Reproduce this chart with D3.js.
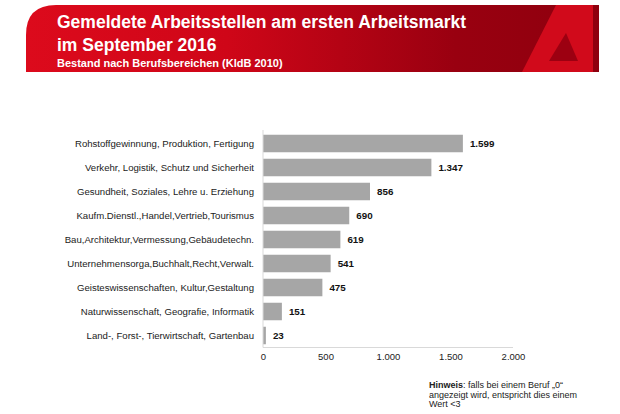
<!DOCTYPE html>
<html>
<head>
<meta charset="utf-8">
<script src="https://cdn.jsdelivr.net/npm/d3@7"></script>
<style>
  body { margin: 0; background: #fff; }
  svg { display: block; font-family: "Liberation Sans", Arial, sans-serif; }
</style>
</head>
<body>
<svg width="620" height="414"></svg>
<script>
const width = 620;
const height = 414;

// data
var categories = [
    "Rohstoffgewinnung, Produktion, Fertigung",
    "Verkehr, Logistik, Schutz und Sicherheit",
    "Gesundheit, Soziales, Lehre u. Erziehung",
    "Kaufm.Dienstl.,Handel,Vertrieb,Tourismus",
    "Bau,Architektur,Vermessung,Gebäudetechn.",
    "Unternehmensorga,Buchhalt,Recht,Verwalt.",
    "Geisteswissenschaften, Kultur,Gestaltung",
    "Naturwissenschaft, Geografie, Informatik",
    "Land-, Forst-, Tierwirtschaft, Gartenbau"
];
var values = [1599, 1347, 856, 690, 619, 541, 475, 151, 23];
var ticks = [0, 500, 1000, 1500, 2000];

var titleLines = ["Gemeldete Arbeitsstellen am ersten Arbeitsmarkt", "im September 2016"];
var subtitle = "Bestand nach Berufsbereichen (KldB 2010)";

var de = d3.formatLocale({decimal: ",", thousands: ".", grouping: [3], currency: ["", " €"]});
var fmt = de.format(",d");

var svg = d3.select("svg");

// ---- header band ----
var defs = svg.append("defs");
var grad = defs.append("linearGradient").attr("id", "hdr").attr("x1", 0).attr("x2", 1).attr("y1", 0).attr("y2", 0);
grad.append("stop").attr("offset", "0%").attr("stop-color", "#dc0a1c");
grad.append("stop").attr("offset", "35%").attr("stop-color", "#cf0618");
grad.append("stop").attr("offset", "75%").attr("stop-color", "#990010");
grad.append("stop").attr("offset", "100%").attr("stop-color", "#8e000e");

var bx0 = 26, bx1 = 599, by0 = 5, by1 = 72, r = 30;
svg.append("path")
    .attr("d", "M" + bx0 + "," + by1 + "V" + (by0 + r) + "Q" + bx0 + "," + by0 + " " + (bx0 + r) + "," + by0 + "H" + bx1 + "V" + by1 + "Z")
    .attr("fill", "url(#hdr)");

// logo (stylised A, cut by the band edge)
var logo = svg.append("g");
logo.append("path")
    .attr("d", "M522,72 L556,5 L593,5 L593,72 Z")
    .attr("fill", "#d10a1b");
logo.append("path")
    .attr("d", "M566,33 L549,61 L578,61 Z")
    .attr("fill", "#9c0011");

svg.selectAll("text.title")
    .data(titleLines)
    .join("text")
    .attr("class", "title")
    .attr("x", 57)
    .attr("y", (d, i) => 28 + i * 22.5)
    .attr("fill", "#fff")
    .attr("font-size", "17.5px")
    .attr("font-weight", "bold")
    .text(d => d);

svg.append("text")
    .attr("x", 57)
    .attr("y", 67)
    .attr("fill", "#fff")
    .attr("font-size", "11px")
    .attr("font-weight", "bold")
    .text(subtitle);

// ---- chart ----
var x = d3.scaleLinear().domain([0, 2000]).range([263, 513]);
var y = d3.scaleBand().domain(categories).range([131.5, 347.5]).paddingInner(0.27).paddingOuter(0.135);

svg.append("g")
    .selectAll("rect")
    .data(values)
    .join("rect")
    .attr("x", x(0))
    .attr("y", (d, i) => y(categories[i]))
    .attr("width", d => x(d) - x(0))
    .attr("height", y.bandwidth())
    .attr("fill", "#a6a6a6");

// axis lines
svg.append("line")
    .attr("x1", x(0)).attr("x2", x(0))
    .attr("y1", 130).attr("y2", 347.5)
    .attr("stroke", "#d9d9d9").attr("stroke-width", 1);
svg.append("line")
    .attr("x1", x(0)).attr("x2", x(2000))
    .attr("y1", 347.5).attr("y2", 347.5)
    .attr("stroke", "#d9d9d9").attr("stroke-width", 1);

// category labels
svg.append("g")
    .selectAll("text")
    .data(categories)
    .join("text")
    .attr("x", 254)
    .attr("y", d => y(d) + y.bandwidth() / 2)
    .attr("dy", "0.35em")
    .attr("text-anchor", "end")
    .attr("font-size", "9.6px")
    .attr("fill", "#222")
    .text(d => d);

// value labels
svg.append("g")
    .selectAll("text")
    .data(values)
    .join("text")
    .attr("x", d => x(d) + 7)
    .attr("y", (d, i) => y(categories[i]) + y.bandwidth() / 2)
    .attr("dy", "0.35em")
    .attr("font-size", "9.8px")
    .attr("font-weight", "bold")
    .attr("fill", "#111")
    .text(d => fmt(d));

// x axis tick labels
var xAxis = svg.append("g")
    .attr("transform", "translate(0,347.5)")
    .call(d3.axisBottom(x).tickValues(ticks).tickSize(0).tickPadding(6).tickFormat(fmt));
xAxis.select(".domain").remove();
xAxis.selectAll("text")
    .attr("font-family", "Liberation Sans, Arial, sans-serif")
    .attr("font-size", "9.5px")
    .attr("fill", "#222");

// note
var note = svg.append("text")
    .attr("x", 429)
    .attr("y", 388)
    .attr("font-size", "9px")
    .attr("fill", "#222");
note.append("tspan").attr("font-weight", "bold").text("Hinweis");
note.append("tspan").text(": falls bei einem Beruf „0“");
svg.append("text").attr("x", 429).attr("y", 397.5).attr("font-size", "9px").attr("fill", "#222")
    .text("angezeigt wird, entspricht dies einem");
svg.append("text").attr("x", 429).attr("y", 407).attr("font-size", "9px").attr("fill", "#222")
    .text("Wert <3");
</script>
</body>
</html>
